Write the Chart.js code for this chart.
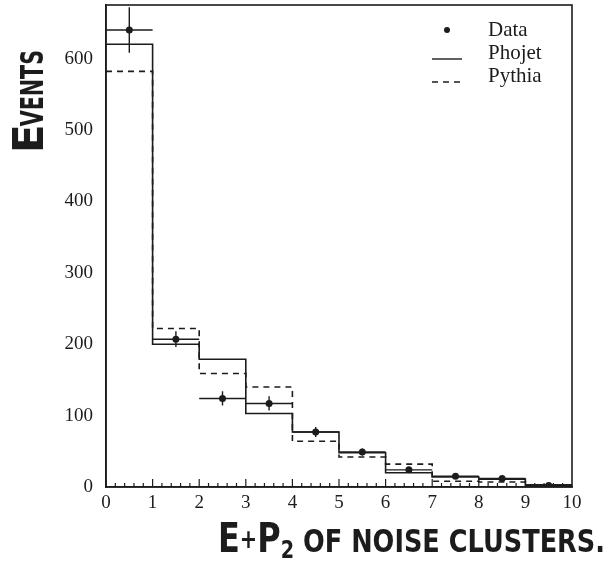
<!DOCTYPE html>
<html>
<head>
<meta charset="utf-8">
<script src="https://cdn.jsdelivr.net/npm/chart.js@4/dist/chart.umd.min.js"></script>
<style>
  body { margin: 0; background: #fff; }
  canvas { display: block; }
</style>
</head>
<body>
<canvas id="noise-chart" width="611" height="571"></canvas>
<script>
'use strict';

// Histogram bins (E+Pz of noise clusters)
var binEdges = [0, 1, 2, 3, 4, 5, 6, 7, 8, 9, 10];

// Values
var dataEvents = [640, 207, 124, 117, 77, 49, 24, 15, 12, 2];
var dataErrors = [32, 11, 10, 10, 7, 5, 4, 3, 3, 1];
var phojetEvents = [620, 200, 179, 103, 77, 48, 20, 14, 11, 3];
var pythiaEvents = [582, 222, 159, 140, 64, 42, 32, 8, 7, 2];

var xTickLabels = [0, 1, 2, 3, 4, 5, 6, 7, 8, 9, 10];
var yTickLabels = [0, 100, 200, 300, 400, 500, 600];
var seriesNames = ['Data', 'Phojet', 'Pythia'];

var ink = '#1c1c1c';
var serif = '"Liberation Serif", "DejaVu Serif", serif';
var marker = '"DejaVu Sans", sans-serif';

// step outline: a point on every edge, the value belongs to the bin on its left
function stepPoints(values) {
  var pts = [{ x: binEdges[0], y: values[0] }];
  for (var i = 0; i < values.length; i++) {
    pts.push({ x: binEdges[i + 1], y: values[i] });
  }
  return pts;
}

var dataPoints = [];
for (var i = 0; i < dataEvents.length; i++) {
  dataPoints.push({ x: (binEdges[i] + binEdges[i + 1]) / 2, y: dataEvents[i] });
}

// frame, inward ticks, error bars, legend and the hand written titles
var decorations = {
  id: 'decorations',
  afterDatasetsDraw: function (chart) {
    var ctx = chart.ctx;
    var area = chart.chartArea;
    var xs = chart.scales.x;
    var ys = chart.scales.y;

    ctx.save();
    ctx.strokeStyle = ink;
    ctx.fillStyle = ink;

    // box
    ctx.lineWidth = 1.6;
    ctx.strokeRect(area.left, area.top, area.right - area.left, area.bottom - area.top);

    // x ticks pointing up into the plot, 5 subdivisions per bin
    ctx.lineWidth = 1.2;
    for (var b = 0; b < binEdges.length - 1; b++) {
      for (var k = 0; k < 5; k++) {
        var v = binEdges[b] + k * (binEdges[b + 1] - binEdges[b]) / 5;
        var px = xs.getPixelForValue(v);
        ctx.beginPath();
        ctx.moveTo(px, area.bottom);
        ctx.lineTo(px, area.bottom - (k === 0 ? 8 : 4));
        ctx.stroke();
      }
    }

    // error bars: full bin width horizontally, +/- error vertically
    ctx.lineWidth = 1.4;
    for (var j = 0; j < dataEvents.length; j++) {
      var cx = xs.getPixelForValue(dataPoints[j].x);
      var cy = ys.getPixelForValue(dataEvents[j]);
      ctx.beginPath();
      ctx.moveTo(xs.getPixelForValue(binEdges[j]), cy);
      ctx.lineTo(xs.getPixelForValue(binEdges[j + 1]), cy);
      ctx.moveTo(cx, Math.max(area.top, ys.getPixelForValue(dataEvents[j] + dataErrors[j])));
      ctx.lineTo(cx, ys.getPixelForValue(dataEvents[j] - dataErrors[j]));
      ctx.stroke();
    }

    // legend in the top right corner
    var lx = area.right - 140;
    var tx = area.right - 84;
    var rows = [area.top + 25, area.top + 48, area.top + 71];
    ctx.font = '21px ' + serif;
    ctx.textBaseline = 'middle';
    ctx.textAlign = 'left';
    for (var r = 0; r < seriesNames.length; r++) {
      ctx.fillText(seriesNames[r], tx, rows[r]);
    }
    ctx.beginPath();
    ctx.arc(lx + 15, rows[0], 3, 0, Math.PI * 2);
    ctx.fill();
    ctx.lineWidth = 1.4;
    ctx.beginPath();
    ctx.moveTo(lx, rows[1] + 6);
    ctx.lineTo(lx + 30, rows[1] + 6);
    ctx.stroke();
    ctx.setLineDash([6, 5]);
    ctx.beginPath();
    ctx.moveTo(lx, rows[2] + 6);
    ctx.lineTo(lx + 30, rows[2] + 6);
    ctx.stroke();
    ctx.setLineDash([]);

    // y title, reading bottom to top
    ctx.save();
    ctx.translate(43, 153);
    ctx.rotate(-Math.PI / 2);
    ctx.textBaseline = 'alphabetic';
    ctx.font = 'bold 42px ' + marker;
    ctx.fillText('E', 0, 0);
    var ew = ctx.measureText('E').width;
    ctx.font = 'bold 32px ' + marker;
    var rest = ctx.measureText('VENTS').width;
    ctx.save();
    ctx.translate(ew - 2, 0);
    ctx.scale((105 - ew) / rest, 1);
    ctx.fillText('VENTS', 0, 0);
    ctx.restore();
    ctx.restore();

    // x title
    var parts = [
      { t: 'E', f: 'bold 40px ' + marker, dy: 0 },
      { t: '+', f: 'bold 26px ' + marker, dy: -4 },
      { t: 'P', f: 'bold 40px ' + marker, dy: 0 },
      { t: '2', f: 'bold 24px ' + marker, dy: 6 },
      { t: ' OF NOISE CLUSTERS.', f: 'bold 32px ' + marker, dy: 0 }
    ];
    var total = 0;
    for (var p = 0; p < parts.length; p++) {
      ctx.font = parts[p].f;
      parts[p].w = ctx.measureText(parts[p].t).width;
      total += parts[p].w;
    }
    ctx.save();
    ctx.translate(218, 552);
    ctx.scale(387 / total, 1);
    ctx.textBaseline = 'alphabetic';
    var off = 0;
    for (var q = 0; q < parts.length; q++) {
      ctx.font = parts[q].f;
      ctx.fillText(parts[q].t, off, parts[q].dy);
      off += parts[q].w;
    }
    ctx.restore();

    ctx.restore();
  }
};

var ctx = document.getElementById('noise-chart').getContext('2d');

var noiseChart = new Chart(ctx, {
  type: 'line',
  data: {
    datasets: [
      {
        label: seriesNames[0],
        type: 'scatter',
        data: dataPoints,
        showLine: false,
        pointRadius: 3.5,
        pointBackgroundColor: ink,
        pointBorderWidth: 0
      },
      {
        label: seriesNames[1],
        data: stepPoints(phojetEvents),
        stepped: 'after',
        borderColor: ink,
        borderWidth: 1.6,
        pointRadius: 0,
        fill: false
      },
      {
        label: seriesNames[2],
        data: stepPoints(pythiaEvents),
        stepped: 'after',
        borderColor: ink,
        borderWidth: 1.6,
        borderDash: [6, 5],
        pointRadius: 0,
        fill: false
      }
    ]
  },
  options: {
    responsive: false,
    animation: false,
    layout: { padding: { top: 5, right: 39, left: 0, bottom: 0 } },
    plugins: {
      legend: { display: false },
      tooltip: { enabled: false }
    },
    scales: {
      x: {
        type: 'linear',
        min: 0,
        max: 10,
        afterBuildTicks: function (scale) {
          scale.ticks = xTickLabels.map(function (v) { return { value: v }; });
        },
        afterFit: function (scale) {
          scale.height = 84;
          scale.paddingLeft = 0;
          scale.paddingRight = 0;
        },
        grid: { display: false, drawTicks: false },
        border: { color: ink, width: 1.6 },
        ticks: { color: ink, padding: 5, maxRotation: 0, font: { family: serif, size: 19 } }
      },
      y: {
        min: 0,
        max: 675,
        afterBuildTicks: function (scale) {
          scale.ticks = yTickLabels.map(function (v) { return { value: v }; });
        },
        afterFit: function (scale) {
          scale.width = 106;
          scale.paddingTop = 0;
          scale.paddingBottom = 0;
        },
        grid: { display: false, drawTicks: false },
        border: { color: ink, width: 1.6 },
        ticks: { color: ink, padding: 13, font: { family: serif, size: 19 } }
      }
    }
  },
  plugins: [decorations]
});
</script>
</body>
</html>
